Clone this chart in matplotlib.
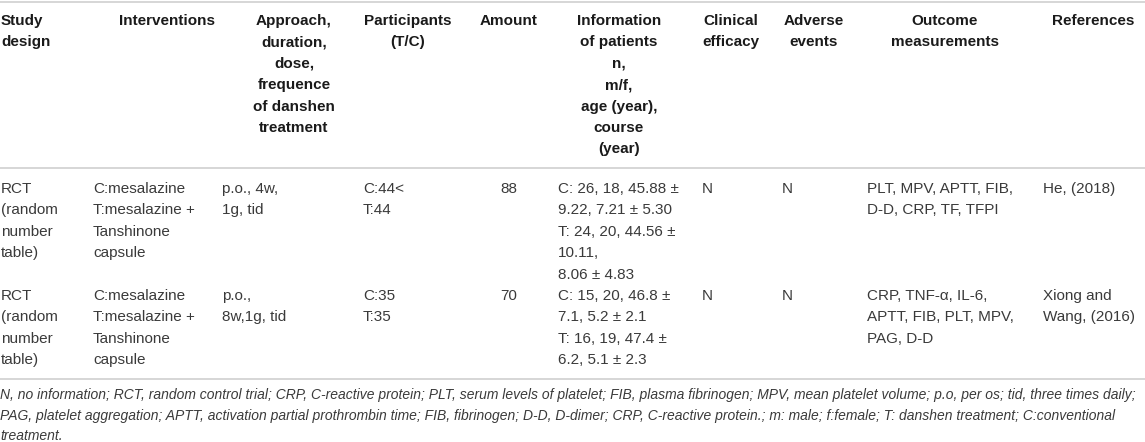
import matplotlib.pyplot as plt

# table content
headers = [
    ["Study", "design"],
    ["Interventions"],
    ["Approach,", "duration,", "dose,", "frequence", "of danshen", "treatment"],
    ["Participants", "(T/C)"],
    ["Amount"],
    ["Information", "of patients", "n,", "m/f,", "age (year),", "course", "(year)"],
    ["Clinical", "efficacy"],
    ["Adverse", "events"],
    ["Outcome", "measurements"],
    ["References"],
]

study_design = [["RCT", "(random", "number", "table)"],
                ["RCT", "(random", "number", "table)"]]
interventions = [["C:mesalazine", "T:mesalazine +", "Tanshinone", "capsule"],
                 ["C:mesalazine", "T:mesalazine +", "Tanshinone", "capsule"]]
approach = [["p.o., 4w,", "1g, tid"],
            ["p.o.,", "8w,1g, tid"]]
participants = [["C:44<", "T:44"],
                ["C:35", "T:35"]]
amount = [["88"], ["70"]]
patients_info = [["C: 26, 18, 45.88 \u00b1", "9.22, 7.21 \u00b1 5.30", "T: 24, 20, 44.56 \u00b1",
                  "10.11,", "8.06 \u00b1 4.83"],
                 ["C: 15, 20, 46.8 \u00b1", "7.1, 5.2 \u00b1 2.1", "T: 16, 19, 47.4 \u00b1",
                  "6.2, 5.1 \u00b1 2.3"]]
clinical_efficacy = [["N"], ["N"]]
adverse_events = [["N"], ["N"]]
outcomes = [["PLT, MPV, APTT, FIB,", "D-D, CRP, TF, TFPI"],
            ["CRP, TNF-\u03b1, IL-6,", "APTT, FIB, PLT, MPV,", "PAG, D-D"]]
references = [["He, (2018)"],
              ["Xiong and", "Wang, (2016)"]]

footnote = [
    "N, no information; RCT, random control trial; CRP, C-reactive protein; PLT, serum levels of platelet; "
    "FIB, plasma fibrinogen; MPV, mean platelet volume; p.o, per os; tid, three times daily;",
    "PAG, platelet aggregation; APTT, activation partial prothrombin time; FIB, fibrinogen; D-D, D-dimer; "
    "CRP, C-reactive protein.; m: male; f:female; T: danshen treatment; C:conventional",
    "treatment.",
]

columns = [study_design, interventions, approach, participants, amount,
           patients_info, clinical_efficacy, adverse_events, outcomes, references]

# layout in pixels
W, H = 1145, 442
header_x = [1, 167, 294, 408, 509, 619, 731, 814, 945, 1093]
header_ha = ["left"] + ["center"] * 9
body_x = [1, 93, 222, 363, 509, 558, 702, 782, 867, 1043]
body_ha = ["left"] * 4 + ["center"] + ["left"] * 5
line_h = 21.4
row_top = [189, 296]

plt.rcParams['font.family'] = ['Liberation Sans', 'DejaVu Sans']
fs = 11

fig = plt.figure(figsize=(W / 100, H / 100), dpi=100)
ax = fig.add_axes([0, 0, 1, 1])
ax.set_xlim(0, W)
ax.set_ylim(H, 0)
ax.axis('off')

for y in [1.5, 168, 379]:
    ax.axhline(y, color='#d0d0d0', lw=1.2)

for lines, x, ha in zip(headers, header_x, header_ha):
    for i, t in enumerate(lines):
        ax.text(x, 21 + i * line_h, t, ha=ha, va='center', fontsize=fs,
                fontweight='bold', color='#1a1a1a')

for col, x, ha in zip(columns, body_x, body_ha):
    for r, cell in enumerate(col):
        for i, t in enumerate(cell):
            ax.text(x, row_top[r] + i * line_h, t, ha=ha, va='center',
                    fontsize=fs, color='#3a3a3a')

# footnote in a slightly smaller italic
for i, t in enumerate(footnote):
    ax.text(0, 395 + i * 20.7, t, ha='left', va='center', fontsize=10,
            style='italic', color='#3a3a3a')

fig.savefig('out.png', dpi=100)
